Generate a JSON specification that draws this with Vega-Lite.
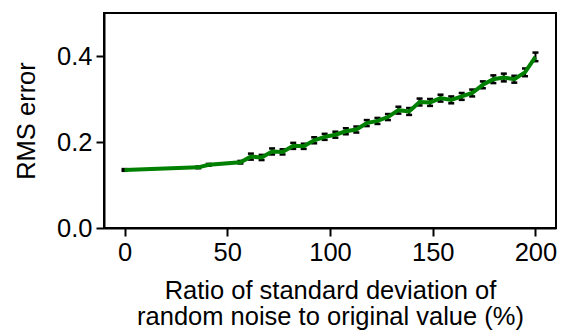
{
  "$schema": "https://vega.github.io/schema/vega-lite/v6.json",
  "width": 452,
  "height": 215,
  "autosize": {"type": "none"},
  "padding": {"left": 104, "top": 13, "right": 5, "bottom": 104},
  "background": "white",
  "config": {
    "view": {"stroke": "black", "strokeWidth": 2},
    "font": "Liberation Sans",
    "axis": {
      "grid": false,
      "domainColor": "black",
      "domainWidth": 2,
      "tickColor": "black",
      "tickWidth": 2,
      "tickSize": 8,
      "labelFont": "Liberation Sans",
      "labelFontSize": 25.5,
      "labelColor": "black",
      "labelPadding": 4,
      "titleFont": "Liberation Sans",
      "titleFontSize": 25.5,
      "titleFontWeight": "normal",
      "titleColor": "black"
    }
  },
  "data": {
    "values": [
      {"x": 0, "y": 0.135, "lo": 0.133, "hi": 0.137},
      {"x": 35.9, "y": 0.141, "lo": 0.139, "hi": 0.143},
      {"x": 41.0, "y": 0.147, "lo": 0.145, "hi": 0.149},
      {"x": 56.4, "y": 0.153, "lo": 0.150, "hi": 0.156},
      {"x": 61.5, "y": 0.166, "lo": 0.159, "hi": 0.173},
      {"x": 66.7, "y": 0.164, "lo": 0.158, "hi": 0.170},
      {"x": 71.8, "y": 0.178, "lo": 0.171, "hi": 0.185},
      {"x": 76.9, "y": 0.177, "lo": 0.171, "hi": 0.183},
      {"x": 82.1, "y": 0.191, "lo": 0.184, "hi": 0.198},
      {"x": 87.2, "y": 0.190, "lo": 0.184, "hi": 0.196},
      {"x": 92.3, "y": 0.204, "lo": 0.197, "hi": 0.211},
      {"x": 97.4, "y": 0.212, "lo": 0.205, "hi": 0.219},
      {"x": 102.6, "y": 0.217, "lo": 0.210, "hi": 0.224},
      {"x": 107.7, "y": 0.225, "lo": 0.218, "hi": 0.232},
      {"x": 112.8, "y": 0.229, "lo": 0.222, "hi": 0.236},
      {"x": 117.9, "y": 0.244, "lo": 0.237, "hi": 0.251},
      {"x": 123.1, "y": 0.249, "lo": 0.242, "hi": 0.256},
      {"x": 128.2, "y": 0.258, "lo": 0.251, "hi": 0.265},
      {"x": 133.3, "y": 0.274, "lo": 0.266, "hi": 0.282},
      {"x": 138.5, "y": 0.271, "lo": 0.263, "hi": 0.279},
      {"x": 143.6, "y": 0.293, "lo": 0.285, "hi": 0.301},
      {"x": 148.7, "y": 0.292, "lo": 0.284, "hi": 0.300},
      {"x": 153.8, "y": 0.302, "lo": 0.294, "hi": 0.310},
      {"x": 159.0, "y": 0.298, "lo": 0.290, "hi": 0.306},
      {"x": 164.1, "y": 0.306, "lo": 0.298, "hi": 0.314},
      {"x": 169.2, "y": 0.314, "lo": 0.306, "hi": 0.322},
      {"x": 174.4, "y": 0.333, "lo": 0.325, "hi": 0.341},
      {"x": 179.5, "y": 0.346, "lo": 0.337, "hi": 0.355},
      {"x": 184.6, "y": 0.350, "lo": 0.341, "hi": 0.359},
      {"x": 189.7, "y": 0.346, "lo": 0.338, "hi": 0.354},
      {"x": 194.9, "y": 0.362, "lo": 0.353, "hi": 0.371},
      {"x": 200, "y": 0.398, "lo": 0.388, "hi": 0.408}
    ]
  },
  "encoding": {
    "x": {
      "field": "x",
      "type": "quantitative",
      "scale": {"domain": [-10, 210], "nice": false, "zero": false},
      "axis": {
        "values": [0, 50, 100, 150, 200],
        "title": ["Ratio of standard deviation of", "random noise to original value (%)"],
        "titlePadding": 13,
        "titleLineHeight": 26
      }
    }
  },
  "layer": [
    {
      "mark": {"type": "rule", "color": "black", "strokeWidth": 2, "opacity": 1},
      "encoding": {
        "y": {
          "field": "lo",
          "type": "quantitative",
          "scale": {"domain": [0, 0.5], "nice": false},
          "axis": {"values": [0, 0.2, 0.4], "format": ".1f", "title": "RMS error", "titlePadding": 17}
        },
        "y2": {"field": "hi"}
      }
    },
    {
      "mark": {"type": "tick", "color": "black", "orient": "horizontal", "size": 6, "thickness": 2.5, "opacity": 1},
      "encoding": {"y": {"field": "lo", "type": "quantitative"}}
    },
    {
      "mark": {"type": "tick", "color": "black", "orient": "horizontal", "size": 6, "thickness": 2.5, "opacity": 1},
      "encoding": {"y": {"field": "hi", "type": "quantitative"}}
    },
    {
      "mark": {"type": "line", "color": "#008000", "strokeWidth": 4},
      "encoding": {"y": {"field": "y", "type": "quantitative"}}
    }
  ]
}
